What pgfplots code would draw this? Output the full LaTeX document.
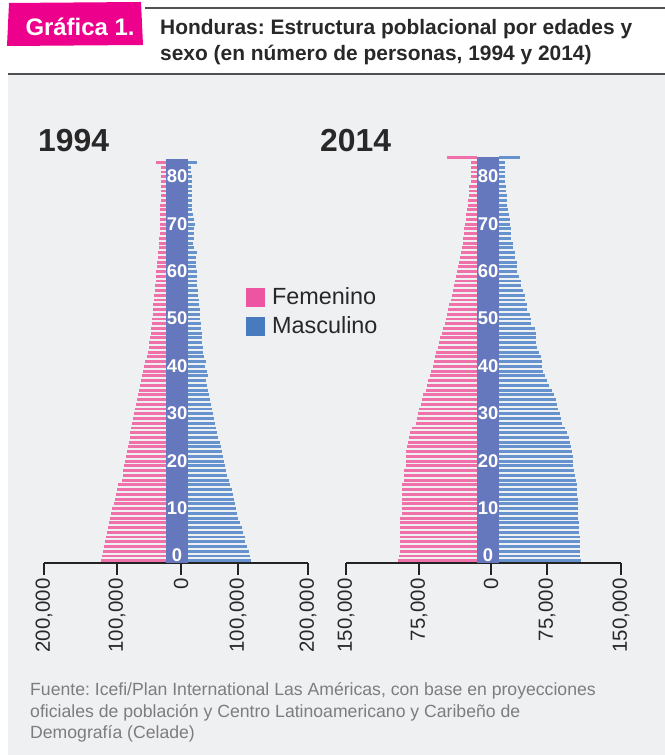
\documentclass[border=0pt]{standalone}
\usepackage{fontspec}
\setmainfont{Liberation Sans}
\usepackage{pgfplots}
\usepackage{pgfplotstable}
\pgfplotsset{compat=1.18}
\frenchspacing

\definecolor{bg}{RGB}{239,240,242}
\definecolor{hdr}{RGB}{80,80,80}
\definecolor{tag}{RGB}{236,0,140}
\definecolor{txt}{RGB}{40,40,40}
\definecolor{fuente}{RGB}{125,125,125}
\definecolor{fem}{RGB}{240,112,170}
\definecolor{mas}{RGB}{102,146,205}
\definecolor{femleg}{RGB}{238,85,160}
\definecolor{masleg}{RGB}{70,124,190}
\definecolor{band}{RGB}{102,120,189}
\definecolor{axisc}{RGB}{35,35,35}

% population by single age, thousands of persons (f = mujeres, m = hombres)
\pgfplotstableread{
age f m
0 108.8 104.5
1 107.0 103.0
2 105.3 101.5
3 103.5 98.3
4 101.7 94.2
5 100.0 94.2
6 98.2 91.7
7 96.3 89.7
8 94.7 85.8
9 92.8 83.3
10 91.0 81.3
11 89.3 80.0
12 87.5 78.3
13 85.7 76.7
14 84.0 75.0
15 82.2 73.0
16 80.3 70.0
17 74.2 68.3
18 72.5 65.0
19 71.0 63.0
20 69.5 60.8
21 68.0 59.2
22 66.5 57.5
23 65.0 56.2
24 63.5 54.2
25 62.2 52.5
26 60.8 50.5
27 59.3 48.8
28 57.7 47.2
29 56.0 45.5
30 54.7 43.7
31 53.3 42.0
32 51.8 40.3
33 50.3 38.3
34 48.7 36.3
35 47.0 34.7
36 45.2 33.3
37 43.7 31.3
38 42.2 29.2
39 40.7 32.5
40 39.2 31.3
41 37.0 28.0
42 34.7 29.2
43 32.2 26.3
44 30.0 25.3
45 28.8 24.7
46 27.7 23.8
47 26.7 23.3
48 25.7 22.7
49 24.7 22.2
50 23.8 21.7
51 23.2 20.8
52 22.5 20.0
53 21.8 19.2
54 21.3 18.3
55 20.5 17.7
56 19.7 17.0
57 18.8 16.3
58 18.2 15.8
59 17.3 15.3
60 16.7 14.7
61 16.0 14.2
62 15.3 13.7
63 14.5 13.2
64 13.8 12.7
65 13.0 15.0
66 12.3 10.8
67 11.8 8.7
68 11.3 9.2
69 10.8 9.5
70 10.3 10.3
71 10.0 11.2
72 9.8 10.3
73 9.7 7.5
74 9.5 7.2
75 9.3 7.0
76 9.0 6.8
77 8.8 6.7
78 8.7 6.7
79 8.5 6.3
80 8.3 6.3
81 8.3 6.0
82 8.3 5.8
83 8.3 5.7
84 17.2 14.5
}\pobA

\pgfplotstableread{
age f m
0 94.0 98.0
1 92.5 96.1
2 92.0 96.1
3 92.0 96.1
4 91.7 96.1
5 91.7 96.1
6 91.7 95.8
7 92.0 95.5
8 92.0 95.2
9 92.0 93.7
10 89.6 93.5
11 89.6 93.5
12 89.3 93.5
13 89.3 93.5
14 89.3 93.3
15 89.3 93.2
16 89.3 93.2
17 86.9 91.3
18 86.9 90.8
19 86.7 88.9
20 84.5 88.5
21 84.5 88.5
22 84.5 88.1
23 84.2 86.9
24 83.3 86.1
25 82.7 84.5
26 81.5 83.3
27 79.8 81.0
28 76.8 78.0
29 73.2 75.0
30 71.4 73.8
31 70.0 72.9
32 68.5 70.8
33 66.7 69.0
34 65.2 67.5
35 63.7 65.5
36 61.3 63.1
37 59.5 60.1
38 58.3 57.5
39 56.5 54.4
40 54.8 52.7
41 52.7 51.5
42 51.2 50.8
43 50.0 50.0
44 48.8 48.0
45 46.4 45.2
46 45.0 43.7
47 44.0 44.4
48 41.4 44.4
49 40.1 42.9
50 38.5 37.7
51 36.9 38.1
52 36.1 36.5
53 34.2 33.7
54 33.0 33.0
55 31.3 31.0
56 30.1 30.6
57 28.9 28.2
58 27.4 26.5
59 26.2 25.8
60 25.0 23.5
61 24.2 21.4
62 22.6 21.4
63 21.1 21.4
64 20.2 18.7
65 19.4 18.7
66 18.2 16.7
67 17.0 16.7
68 16.3 14.6
69 15.5 14.6
70 15.1 13.9
71 14.3 12.7
72 13.1 12.7
73 13.1 11.5
74 12.5 11.0
75 10.4 9.2
76 10.4 9.2
77 10.1 9.0
78 9.9 8.9
79 9.9 8.9
80 7.5 6.8
81 7.5 6.8
82 7.5 6.8
83 7.5 6.8
84 7.5 6.8
85 36.1 25.5
}\pobB

\pgfplotsset{
  pyr/.style={
    scale only axis, height=407.7bp,
    ymin=-0.5, ymax=85.5, enlargelimits=false, clip=false,
    axis x line*=bottom, axis y line=none,
    tick align=outside, major tick length=12bp,
    axis line style={line width=2bp, draw=axisc},
    xtick style={line width=1.5bp, draw=axisc},
    xticklabel style={rotate=90, anchor=east, text=txt,
      font=\fontsize{20.5}{24}\selectfont},
    extra x tick style={major tick style={draw=none}},
  },
  barra/.style={line width=2.9bp, forget plot},
}
\tikzset{
  edad/.style={inner sep=0pt, text=white, font=\bfseries\fontsize{18.5}{22}\selectfont},
  texto/.style={anchor=base west, inner sep=0pt},
}

\begin{document}
\begin{tikzpicture}
\path[use as bounding box] (0,0) rectangle (665bp,755bp);
\fill[white] (0,0) rectangle (665bp,755bp);
\fill[bg] (8bp,0) rectangle (665bp,681bp);
\draw[line width=2bp, hdr] (8bp,681bp) -- (665bp,681bp);
\draw[line width=2bp, hdr] (145bp,747bp) -- (665bp,747bp);
\fill[tag] (7bp,709bp) -- (9bp,752bp) -- (141bp,753bp) -- (143bp,710bp) -- cycle;
\node[anchor=base, text=white, font=\bfseries\fontsize{24}{28}\selectfont] at (80bp,719bp) {Gráfica 1.};
\node[texto, text=txt, font=\bfseries\fontsize{21}{26}\selectfont] at (160bp,720bp) {Honduras: Estructura poblacional por edades y};
\node[texto, text=txt, font=\bfseries\fontsize{21}{26}\selectfont] at (160bp,694bp) {sexo (en número de personas, 1994 y 2014)};

\node[texto, text=txt, font=\bfseries\fontsize{32}{36}\selectfont] at (38bp,603bp) {1994};
\node[texto, text=txt, font=\bfseries\fontsize{32}{36}\selectfont] at (320bp,603bp) {2014};

% 1994
\begin{axis}[pyr, at={(44bp,191.9bp)}, anchor=south west, width=264bp,
  xmin=-221.7, xmax=218.3,
  xtick={-221.7,-100,101.7,218.3},
  xticklabels={{200,000},{100,000},{100,000},{200,000}},
  extra x ticks={6.7}, extra x tick labels={0},
  legend style={at={(axis cs:115,58)}, anchor=north west, draw=none, fill=none,
    inner sep=0pt, row sep=6.5bp, text=txt, font=\fontsize{23.5}{26}\selectfont,
    /tikz/every odd column/.style={column sep=5.5bp}},
  legend cell align=left,
  legend image code/.code={\fill[#1] (0bp,-9bp) rectangle (18bp,9bp);},
]
\addplot[barra, fem, quiver={u=-\thisrow{f}, v=0}] table[x expr=-18.33, y=age] {\pobA};
\addplot[barra, mas, quiver={u=\thisrow{m}, v=0}] table[x expr=18.33, y=age] {\pobA};
\fill[band] (axis cs:-18.33,-0.5) rectangle (axis cs:18.33,84.7);
\pgfplotsinvokeforeach{0,10,20,30,40,50,60,70,80}{
  \node[edad] at (axis cs:0,{#1+1.1}) {#1};
}
\addlegendimage{femleg}
\addlegendentry{Femenino}
\addlegendimage{masleg}
\addlegendentry{Masculino}
\end{axis}

% 2014
\begin{axis}[pyr, at={(346bp,191.9bp)}, anchor=south west, width=275bp,
  xmin=-169.05, xmax=158.33,
  xtick={-169.05,-82.1,70.2,158.33},
  xticklabels={{150,000},{75,000},{75,000},{150,000}},
  extra x ticks={3.6}, extra x tick labels={0},
]
\addplot[barra, fem, quiver={u=-\thisrow{f}, v=0}] table[x expr=-13.1, y=age] {\pobB};
\addplot[barra, mas, quiver={u=\thisrow{m}, v=0}] table[x expr=13.1, y=age] {\pobB};
\fill[band] (axis cs:-13.1,-0.5) rectangle (axis cs:13.1,85.2);
\pgfplotsinvokeforeach{0,10,20,30,40,50,60,70,80}{
  \node[edad] at (axis cs:0,{#1+1.1}) {#1};
}
\end{axis}

\node[texto, text=fuente, font=\fontsize{17.7}{21}\selectfont] at (30bp,59bp) {Fuente: Icefi/Plan International Las Américas, con base en proyecciones};
\node[texto, text=fuente, font=\fontsize{17.7}{21}\selectfont] at (30bp,38bp) {oficiales de población y Centro Latinoamericano y Caribeño de};
\node[texto, text=fuente, font=\fontsize{17.7}{21}\selectfont] at (30bp,17bp) {Demografía (Celade)};
\end{tikzpicture}
\end{document}
